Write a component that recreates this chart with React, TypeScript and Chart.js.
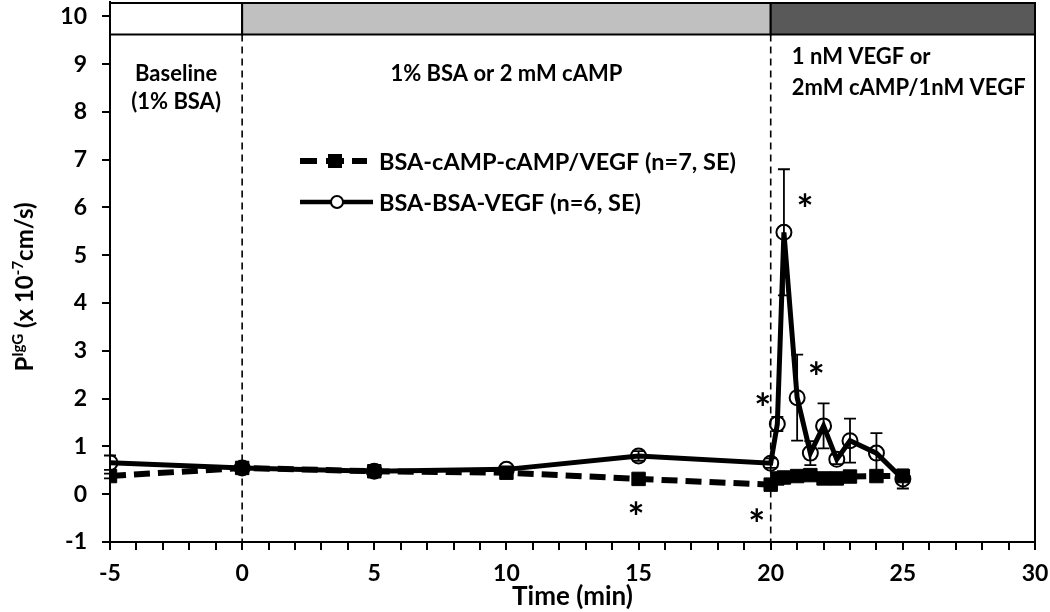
import React, { useEffect, useRef } from 'react';
import { Chart, registerables } from 'chart.js';

Chart.register(...registerables);

// ---------- data ----------
const times = [-5, 0, 5, 10, 15, 20, 20.25, 20.5, 21, 21.5, 22, 22.5, 23, 24, 25];
const bsaCampVegf = [0.38, 0.55, 0.48, 0.45, 0.32, 0.2, 0.33, 0.35, 0.38, 0.4, 0.33, 0.33, 0.37, 0.38, 0.38];
const bsaCampVegfErr = [0.05, 0.04, 0.04, 0.04, 0.04, 0.04, 0.04, 0.04, 0.04, 0.04, 0.04, 0.04, 0.04, 0.04, 0.05];
const bsaBsaVegf = [0.66, 0.55, 0.48, 0.52, 0.8, 0.65, 1.47, 5.48, 2.02, 0.86, 1.43, 0.73, 1.12, 0.86, 0.32];
const bsaBsaVegfErr = [0.15, 0.05, 0.05, 0.05, 0.1, 0.1, 0.15, 1.32, 0.9, 0.25, 0.47, 0.1, 0.46, 0.42, 0.2];

const seriesNames = ['BSA-cAMP-cAMP/VEGF (n=7, SE)', 'BSA-BSA-VEGF (n=6, SE)'];

const xMin = -5;
const xMax = 30;
const yMin = -1;
const yMax = 10.3;
const xTickValues = Array.from({ length: 36 }, (_, i) => i - 5);
const yTickValues = [-1, 0, 1, 2, 3, 4, 5, 6, 7, 8, 9, 10];

const phaseStarts = [-5, 0, 20];
const phaseEnds = [0, 20, 30];
const phaseColors = ['#ffffff', '#c0c0c0', '#595959'];
const phaseBarBottom = 9.62;
const phaseDividers = [0, 20];

const phaseLabelText = [['Baseline', '(1% BSA)'], ['1% BSA or 2 mM cAMP'], ['1 nM VEGF or', '2mM cAMP/1nM VEGF']];
const phaseLabelX = [-2.5, 10, 20.8];
const phaseLabelY = [[8.8, 8.2], [8.8], [9.15, 8.5]];
const phaseLabelAlign = ['center', 'center', 'left'];

const starX = [14.9, 19.47, 19.7, 21.3, 21.72];
const starY = [-0.29, -0.44, 2.0, 6.15, 2.64];

const FONT = 'Lato, "Open Sans", "DejaVu Sans", sans-serif';

const overlayPlugin = {
  id: 'overlay',
  beforeDatasetsDraw(chart: any) {
    const { ctx, chartArea, scales } = chart;
    const xs = scales.x;
    const ys = scales.y;
    ctx.save();
    // phase bars
    const yt = ys.getPixelForValue(yMax);
    const yb = ys.getPixelForValue(phaseBarBottom);
    for (let i = 0; i < phaseStarts.length; i++) {
      const x0 = xs.getPixelForValue(phaseStarts[i]);
      const x1 = xs.getPixelForValue(phaseEnds[i]);
      ctx.fillStyle = phaseColors[i];
      ctx.fillRect(x0, yt, x1 - x0, yb - yt);
      ctx.strokeStyle = '#000';
      ctx.lineWidth = 2;
      ctx.strokeRect(x0, yt + 1, x1 - x0, yb - yt - 1);
    }
    // dashed dividers
    ctx.setLineDash([7, 5]);
    ctx.lineWidth = 1.6;
    ctx.strokeStyle = '#000';
    for (const d of phaseDividers) {
      const px = xs.getPixelForValue(d);
      ctx.beginPath();
      ctx.moveTo(px, yb);
      ctx.lineTo(px, chartArea.bottom);
      ctx.stroke();
    }
    ctx.setLineDash([]);
    // error bars
    const drawErr = (vals: number[], errs: number[]) => {
      ctx.lineWidth = 1.8;
      for (let i = 0; i < times.length; i++) {
        const px = xs.getPixelForValue(times[i]);
        const p1 = ys.getPixelForValue(vals[i] + errs[i]);
        const p2 = ys.getPixelForValue(vals[i] - errs[i]);
        ctx.beginPath();
        ctx.moveTo(px, p1);
        ctx.lineTo(px, p2);
        ctx.moveTo(px - 6, p1);
        ctx.lineTo(px + 6, p1);
        ctx.moveTo(px - 6, p2);
        ctx.lineTo(px + 6, p2);
        ctx.stroke();
      }
    };
    drawErr(bsaBsaVegf, bsaBsaVegfErr);
    drawErr(bsaCampVegf, bsaCampVegfErr);
    // phase labels
    ctx.fillStyle = '#000';
    ctx.font = `bold 22px ${FONT}`;
    ctx.textBaseline = 'middle';
    for (let i = 0; i < phaseLabelText.length; i++) {
      ctx.textAlign = phaseLabelAlign[i];
      for (let j = 0; j < phaseLabelText[i].length; j++) {
        ctx.fillText(phaseLabelText[i][j], xs.getPixelForValue(phaseLabelX[i]), ys.getPixelForValue(phaseLabelY[i][j]));
      }
    }
    // asterisks
    ctx.font = `bold 40px ${FONT}`;
    ctx.textAlign = 'center';
    ctx.textBaseline = 'alphabetic';
    const m = ctx.measureText('*');
    const off = (m.actualBoundingBoxAscent - m.actualBoundingBoxDescent) / 2;
    for (let i = 0; i < starX.length; i++) {
      ctx.fillText('*', xs.getPixelForValue(starX[i]), ys.getPixelForValue(starY[i]) + off);
    }
    ctx.restore();
  },
  afterDraw(chart: any) {
    const { ctx, chartArea, scales } = chart;
    const xs = scales.x;
    ctx.save();
    // right border
    ctx.strokeStyle = '#000';
    ctx.lineWidth = 2;
    const rx = xs.getPixelForValue(xMax);
    ctx.beginPath();
    ctx.moveTo(rx, chartArea.top);
    ctx.lineTo(rx, chartArea.bottom);
    ctx.stroke();

    // legend
    const lx = 300;
    const l1y = 161;
    const l2y = 202;
    ctx.lineWidth = 6;
    ctx.beginPath();
    ctx.moveTo(lx, l1y); ctx.lineTo(lx + 17, l1y);
    ctx.moveTo(lx + 26, l1y); ctx.lineTo(lx + 44, l1y);
    ctx.moveTo(lx + 52, l1y); ctx.lineTo(lx + 67, l1y);
    ctx.stroke();
    ctx.fillStyle = '#000';
    ctx.fillRect(lx + 35 - 7, l1y - 7, 14, 14);
    ctx.lineWidth = 4.5;
    ctx.beginPath();
    ctx.moveTo(lx, l2y); ctx.lineTo(lx + 73, l2y);
    ctx.stroke();
    ctx.beginPath();
    ctx.arc(lx + 37, l2y, 6, 0, Math.PI * 2);
    ctx.fillStyle = '#fff';
    ctx.fill();
    ctx.lineWidth = 2;
    ctx.stroke();
    ctx.fillStyle = '#000';
    ctx.font = `bold 23.5px ${FONT}`;
    ctx.textAlign = 'left';
    ctx.textBaseline = 'middle';
    ctx.fillText(seriesNames[0], lx + 79, l1y + 1);
    ctx.fillText(seriesNames[1], lx + 79, l2y + 1);

    // y-axis title with superscripts
    const big = `bold 24px ${FONT}`;
    const small = `bold 15px ${FONT}`;
    const parts: [string, boolean][] = [['P', false], ['IgG', true], [' (x 10', false], ['-7', true], ['cm/s)', false]];
    let total = 0;
    const widths = parts.map(([t, sup]) => {
      ctx.font = sup ? small : big;
      const w = ctx.measureText(t).width;
      total += w;
      return w;
    });
    ctx.translate(24, 287);
    ctx.rotate(-Math.PI / 2);
    let cx = -total / 2;
    ctx.textAlign = 'left';
    ctx.textBaseline = 'alphabetic';
    parts.forEach(([t, sup], i) => {
      ctx.font = sup ? small : big;
      ctx.fillText(t, cx, sup ? -1 : 9);
      cx += widths[i];
    });
    ctx.restore();
  },
};

export default function App() {
  const ref = useRef<HTMLCanvasElement | null>(null);
  useEffect(() => {
    if (!ref.current) return;
    const chart = new Chart(ref.current, {
      type: 'line',
      data: {
        datasets: [
          {
            label: seriesNames[0],
            data: times.map((t, i) => ({ x: t, y: bsaCampVegf[i] })),
            borderColor: '#000',
            borderWidth: 6,
            borderDash: [16, 8],
            pointStyle: 'rect',
            pointRadius: 9.5,
            pointBackgroundColor: '#000',
            pointBorderColor: '#000',
            pointBorderWidth: 1,
            tension: 0,
          },
          {
            label: seriesNames[1],
            data: times.map((t, i) => ({ x: t, y: bsaBsaVegf[i] })),
            borderColor: '#000',
            borderWidth: 5,
            pointStyle: 'circle',
            pointRadius: 7.5,
            pointBackgroundColor: 'rgba(255,255,255,0)',
            pointBorderColor: '#000',
            pointBorderWidth: 2,
            tension: 0,
          },
        ],
      },
      options: {
        responsive: false,
        animation: false,
        devicePixelRatio: 1,
        layout: { autoPadding: false, padding: { left: 0, top: 2, right: 15, bottom: 0 } },
        plugins: { legend: { display: false }, tooltip: { enabled: false } },
        scales: {
          x: {
            type: 'linear',
            min: xMin,
            max: xMax,
            grid: { display: true, drawOnChartArea: false, drawTicks: true, tickLength: 8, color: '#000', lineWidth: 2 },
            border: { display: true, color: '#000', width: 2 },
            ticks: {
              autoSkip: false,
              maxRotation: 0,
              padding: 10,
              color: '#000',
              font: { family: FONT, size: 23, weight: 'bold' },
              callback: (v: any) => (Number(v) % 5 === 0 ? String(v) : ''),
            },
            title: {
              display: true,
              text: 'Time (min)',
              color: '#000',
              font: { family: FONT, size: 26, weight: 'bold' },
              padding: { top: 0, bottom: 0 },
            },
            afterBuildTicks: (s: any) => {
              s.ticks = xTickValues.map((v) => ({ value: v }));
            },
            afterFit: (s: any) => {
              s.height = 70;
              s.paddingLeft = 0;
              s.paddingRight = 0;
            },
          },
          y: {
            type: 'linear',
            min: yMin,
            max: yMax,
            grid: { display: true, drawOnChartArea: false, drawTicks: true, tickLength: 8, color: '#000', lineWidth: 2 },
            border: { display: true, color: '#000', width: 2 },
            ticks: {
              padding: 15,
              color: '#000',
              font: { family: FONT, size: 23, weight: 'bold' },
            },
            afterBuildTicks: (s: any) => {
              s.ticks = yTickValues.map((v) => ({ value: v }));
            },
            afterFit: (s: any) => {
              s.width = 110;
              s.paddingTop = 0;
              s.paddingBottom = 0;
            },
          },
        },
      },
      plugins: [overlayPlugin],
    } as any);
    return () => chart.destroy();
  }, []);
  return (
    <div style={{ position: 'absolute', left: 0, top: 0, width: 1050, height: 612 }}>
      <canvas ref={ref} width={1050} height={612} style={{ display: 'block' }} />
    </div>
  );
}
